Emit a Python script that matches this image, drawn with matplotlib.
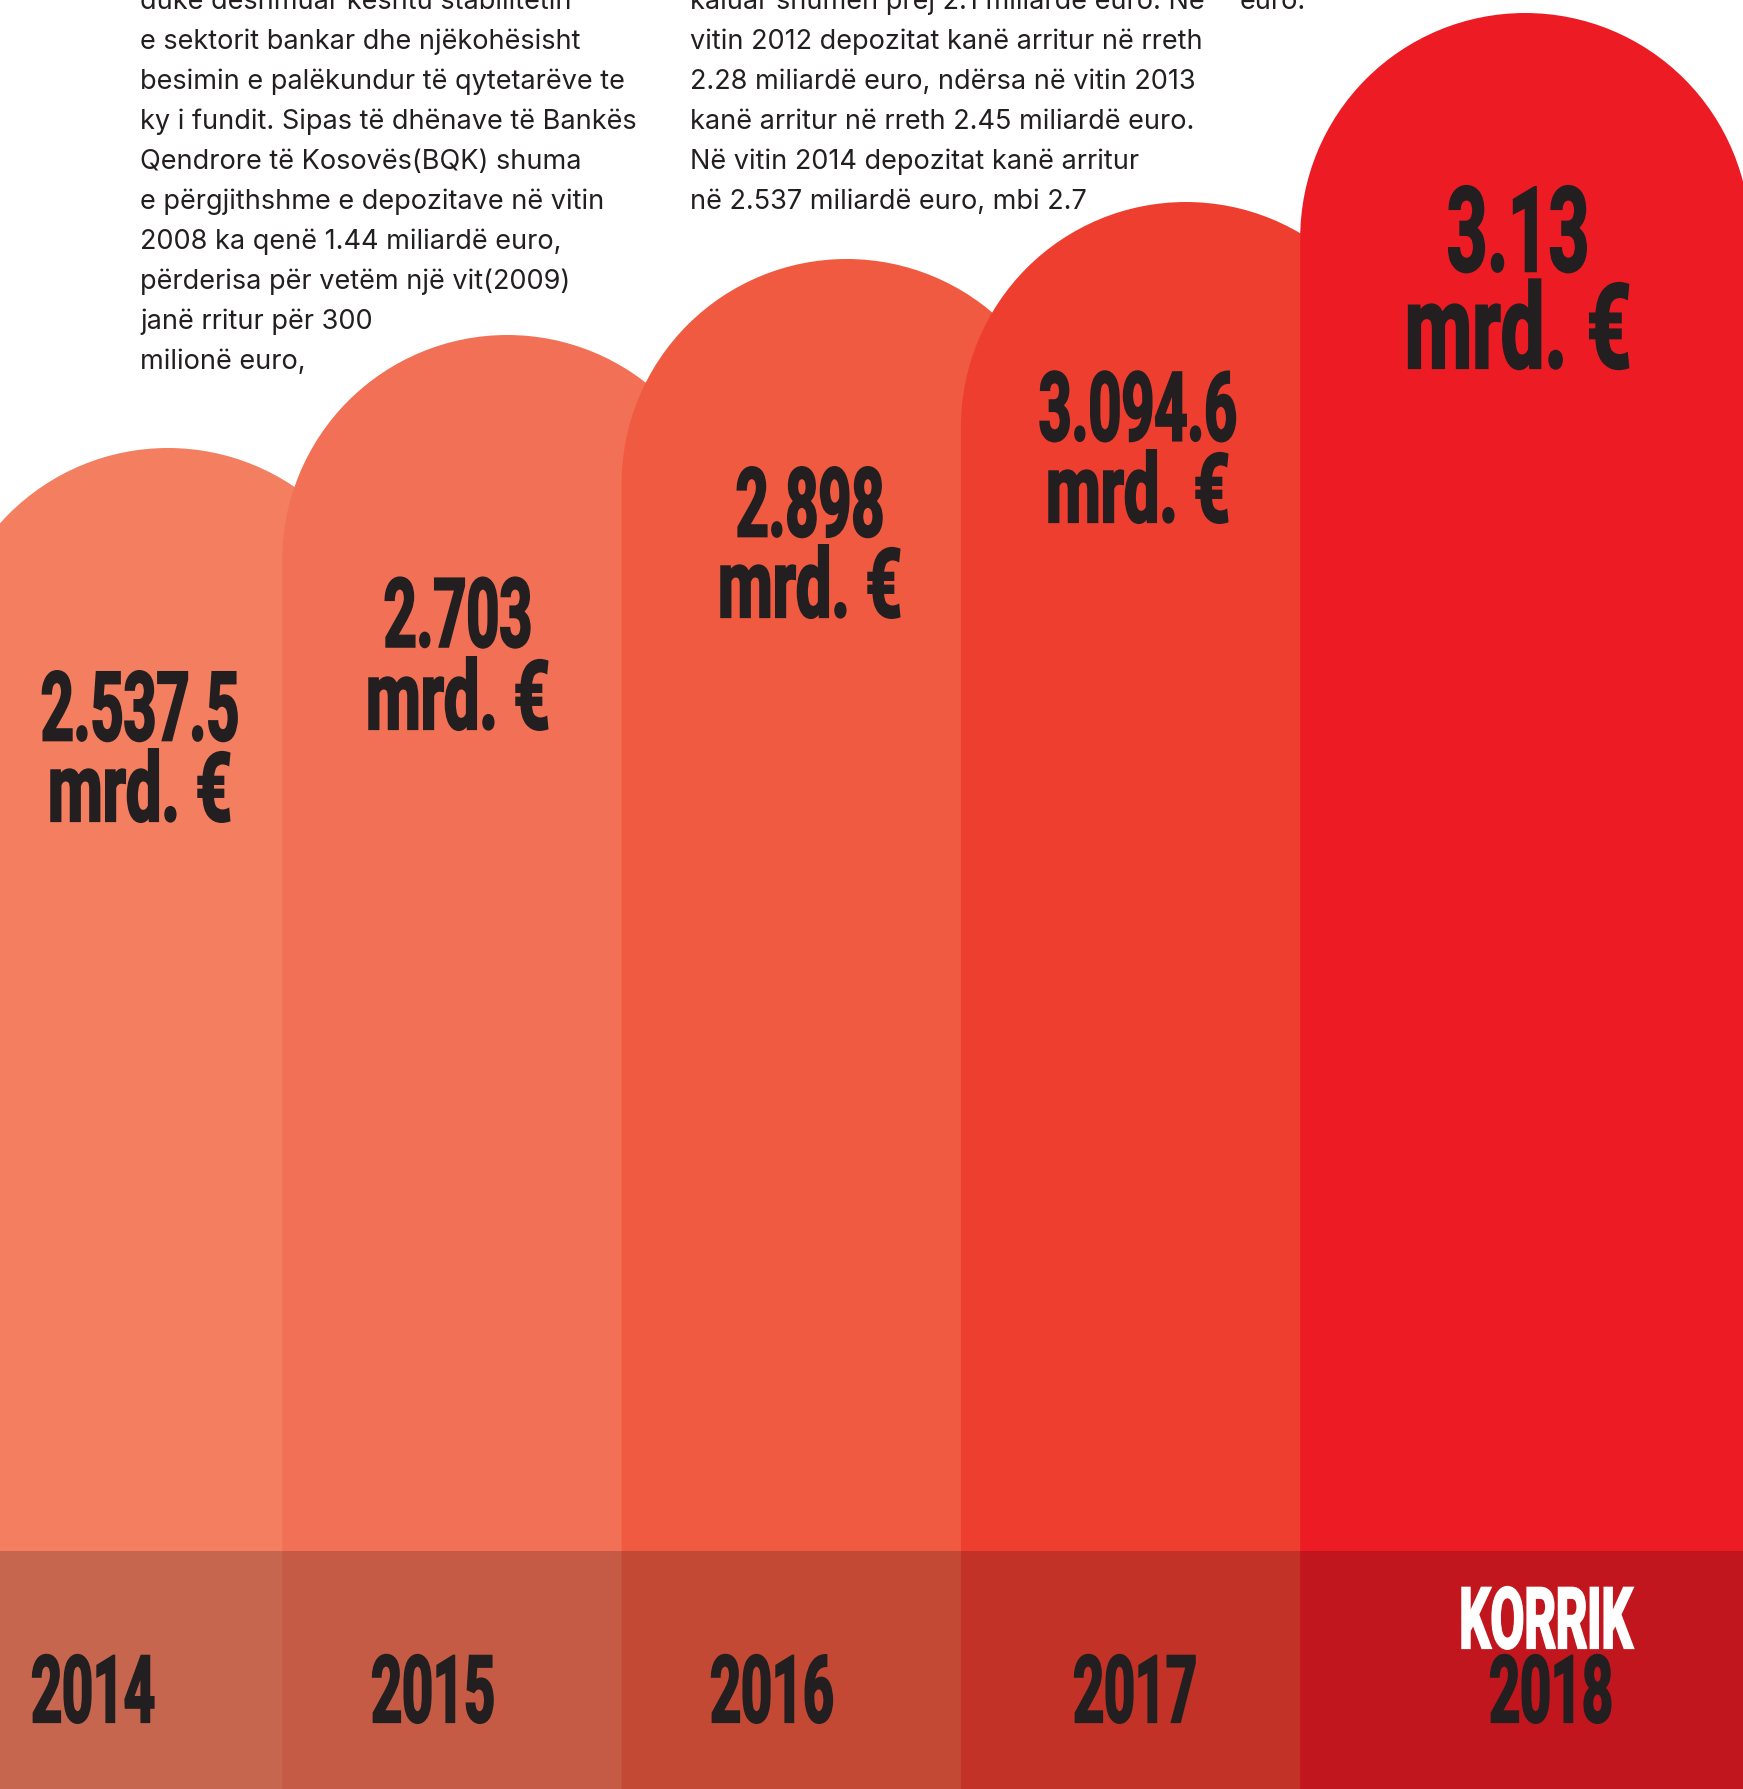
import matplotlib
matplotlib.use("Agg")
import matplotlib.pyplot as plt
import numpy as np
from matplotlib.path import Path
from matplotlib.patches import PathPatch
from matplotlib.transforms import Affine2D, Bbox
from matplotlib.text import Text
from matplotlib import patheffects

# ---------------- data ----------------
years = ["2014", "2015", "2016", "2017", "2018"]
period_labels = ["", "", "", "", "KORRIK"]
deposits_mrd_eur = [2537.5, 2703.0, 2898.0, 3094.6, 3130.0]
value_labels = ["2.537.5", "2.703", "2.898", "3.094.6", "3.13"]
unit_label = "mrd. €"
# visual column heights (pictorial, bottom to dome top)
column_heights = [1341, 1454, 1530, 1587, 1776]

text_left = [
    "duke dëshmuar kështu stabilitetin",
    "e sektorit bankar dhe njëkohësisht",
    "besimin e palëkundur të qytetarëve te",
    "ky i fundit. Sipas të dhënave të Bankës",
    "Qendrore të Kosovës(BQK) shuma",
    "e përgjithshme e depozitave në vitin",
    "2008 ka qenë 1.44 miliardë euro,",
    "përderisa për vetëm një vit(2009)",
    "janë rritur për 300",
    "milionë euro,",
]
text_mid = [
    "kaluar shumën prej 2.1 miliardë euro. Në",
    "vitin 2012 depozitat kanë arritur në rreth",
    "2.28 miliardë euro, ndërsa në vitin 2013",
    "kanë arritur në rreth 2.45 miliardë euro.",
    "Në vitin 2014 depozitat kanë arritur",
    "në 2.537 miliardë euro, mbi 2.7",
]
text_right = ["euro."]

# ---------------- style / layout ----------------
W, H = 1743, 1790
col_colors = ["#F37E60", "#F27055", "#F05A40", "#EE3E2F", "#ED1C24"]
ink = "#231F20"
spacing_px = 339.3
first_center_px = 168
radius_px = 225
band_px = 238

value_x = [140, 458, 810, 1138, 1518]
value_base = [745, 651, 541, 445, 277]
unit_base = [822, 730, 618, 523, 369]
value_size = [69, 69, 69, 69, 85]
year_x = [93, 433, 772, 1135, 1551]
year_base = 1723
period_x = 1546
period_base = 1649

heavy = ["Roboto", "DejaVu Sans"]
body = ["Inter", "DejaVu Sans"]
body_size = 19.5


class Condense(patheffects.AbstractPathEffect):
    """Narrow (and slightly embolden) glyphs around the text anchor, per line."""

    def __init__(self, owner, stroke=1.6):
        super().__init__()
        self.owner = owner
        self.stroke = stroke

    def draw_path(self, renderer, gc, tpath, affine, rgbFace=None):
        o = self.owner
        sx = o.sxs[min(o._line, len(o.sxs) - 1)]
        o._line += 1
        cx = o.get_transform().transform(o.get_position())[0]
        t = affine + Affine2D().translate(-cx, 0).scale(sx, 1).translate(cx, 0)
        gc0 = renderer.new_gc()
        gc0.copy_properties(gc)
        if rgbFace is not None and self.stroke > 0:
            gc0.set_linewidth(self.stroke)
            gc0.set_foreground(rgbFace)
            gc0.set_joinstyle("miter")
        renderer.draw_path(gc0, tpath, t, rgbFace)
        gc0.restore()


class CText(Text):
    def __init__(self, x, y, s, sxs, **kw):
        super().__init__(x, y, s, **kw)
        self.sxs = list(sxs)
        self._line = 0
        self.set_path_effects([Condense(self)])

    def draw(self, renderer):
        self._line = 0
        super().draw(renderer)

    def get_window_extent(self, renderer=None, dpi=None):
        bb = super().get_window_extent(renderer, dpi)
        cx = self.get_transform().transform(self.get_position())[0]
        s = max(self.sxs)
        return Bbox([[cx + (bb.x0 - cx) * s, bb.y0], [cx + (bb.x1 - cx) * s, bb.y1]])


def ctext(ax, x, y, s, sxs, transform, **kw):
    t = CText(x, y, s, sxs, transform=transform, **kw)
    ax.add_artist(t)
    return t


fig = plt.figure(figsize=(W / 100, H / 100), dpi=100)
fig.patch.set_facecolor("white")
ax = fig.add_axes([0, 0, 1, 1])
ax.set_xlim(-first_center_px / spacing_px, (W - first_center_px) / spacing_px)
ax.set_ylim(0, H)
ax.axis("off")

rx = radius_px / spacing_px
ry = radius_px
arc = Path.arc(0, 180)
for i, (h, c) in enumerate(zip(column_heights, col_colors)):
    straight = h - ry
    av = arc.vertices * np.array([rx, ry]) + np.array([i, straight])
    verts = [(i + rx, 0), (i + rx, straight)] + [tuple(v) for v in av[1:]] + [(i - rx, 0), (i + rx, 0)]
    codes = [Path.MOVETO, Path.LINETO] + list(arc.codes[1:]) + [Path.LINETO, Path.CLOSEPOLY]
    ax.add_patch(PathPatch(Path(verts, codes), facecolor=c, edgecolor="none", lw=0))

ax.axhspan(0, band_px, color="black", alpha=0.185, lw=0)

lay = Affine2D().scale(1 / W, -1 / H).translate(0, 1) + ax.transAxes

for i in range(len(years)):
    em_px = value_size[i] * 100 / 72
    ls = (unit_base[i] - value_base[i]) / (0.952 * em_px)
    ctext(ax, value_x[i], unit_base[i], value_labels[i] + "\n" + unit_label, [0.60, 0.66], lay,
          ha="center", va="baseline", linespacing=ls,
          fontsize=value_size[i], fontweight="bold", family=heavy, color=ink)
    ctext(ax, year_x[i], year_base, years[i], [0.58], lay, ha="center", va="baseline",
          fontsize=67, fontweight="bold", family=heavy, color=ink)
    if period_labels[i]:
        ctext(ax, period_x, period_base, period_labels[i], [0.58], lay, ha="center", va="baseline",
              fontsize=61, fontweight="bold", family=heavy, color="white")

for k, line in enumerate(text_left):
    ax.text(140, 9 + 40 * k, line, transform=lay, ha="left", va="baseline",
            fontsize=body_size, family=body, color=ink)
for k, line in enumerate(text_mid):
    ax.text(690, 9 + 40 * k, line, transform=lay, ha="left", va="baseline",
            fontsize=body_size, family=body, color=ink)
for k, line in enumerate(text_right):
    ax.text(1240, 9 + 40 * k, line, transform=lay, ha="left", va="baseline",
            fontsize=body_size, family=body, color=ink)

fig.savefig("out.png", dpi=100, facecolor="white")
